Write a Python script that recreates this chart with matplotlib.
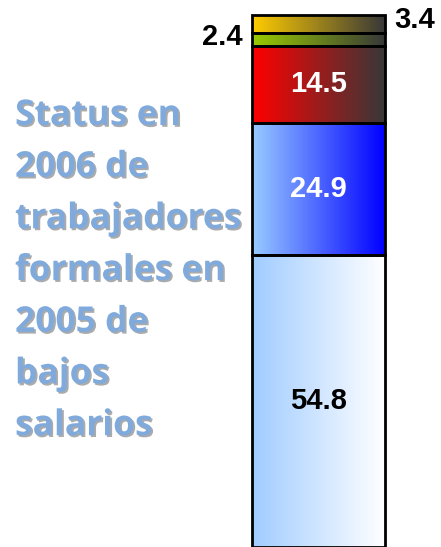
import numpy as np
import matplotlib.pyplot as plt
import matplotlib.patheffects as pe
from matplotlib.colors import LinearSegmentedColormap

# Segmentos de abajo hacia arriba
valores = [54.8, 24.9, 14.5, 2.4, 3.4]
color_izq = ['#a0ccff', '#99ccff', '#ff0000', '#99cc00', '#ffcc00']
color_der = ['#ffffff', '#0000ff', '#383838', '#383838', '#383838']
color_texto = ['black', 'white', 'white', 'black', 'black']

titulo = ['Status en', '2006 de', 'trabajadores', 'formales en',
          '2005 de', 'bajos', 'salarios']

fig = plt.figure(figsize=(4.41, 5.47), dpi=100)
ax = fig.add_axes([252/441, -3/547, 133/441, 535/547])

grad = np.linspace(0, 1, 256).reshape(1, -1)
base = 0
for i, v in enumerate(valores):
    bar = ax.bar(0, v, bottom=base, width=1, facecolor='none',
                 edgecolor='black', linewidth=2, zorder=3, clip_on=False)[0]
    cmap = LinearSegmentedColormap.from_list(f'g{i}', [color_izq[i], color_der[i]])
    im = ax.imshow(grad, cmap=cmap, aspect='auto',
                   extent=(-0.5, 0.5, base, base + v), zorder=2)
    im.set_clip_path(bar)
    base += v

ax.set_xlim(-0.5, 0.5)
ax.set_ylim(-3/5.32, 100)
ax.axis('off')

# Etiquetas de valores
fs = 21
lab = dict(fontsize=fs, fontweight='bold', family='Liberation Sans')
centros = np.cumsum(valores) - np.array(valores) / 2
for i in range(3):
    ax.text(0, centros[i], f'{valores[i]}', ha='center', va='center',
            color=color_texto[i], **lab)
ax.annotate(f'{valores[3]}', xy=(-0.5, centros[3] + 0.4), xytext=(-7, 0),
            textcoords='offset points', ha='right', va='center',
            color=color_texto[3], annotation_clip=False, **lab)
ax.annotate(f'{valores[4]}', xy=(0.5, centros[4] + 0.7), xytext=(7, 0),
            textcoords='offset points', ha='left', va='center',
            color=color_texto[4], annotation_clip=False, **lab)

sombra = [pe.withSimplePatchShadow(offset=(1.3, -1.3),
                                   shadow_rgbFace='#666666', alpha=0.55)]
for k, linea in enumerate(titulo):
    fig.text(15/441, 1 - (125 + k * 51.7)/547, linea, ha='left', va='baseline',
             fontsize=25.5, fontweight='bold', color='#80aadb', family='Open Sans',
             path_effects=sombra)

fig.savefig('out.png', dpi=100)
